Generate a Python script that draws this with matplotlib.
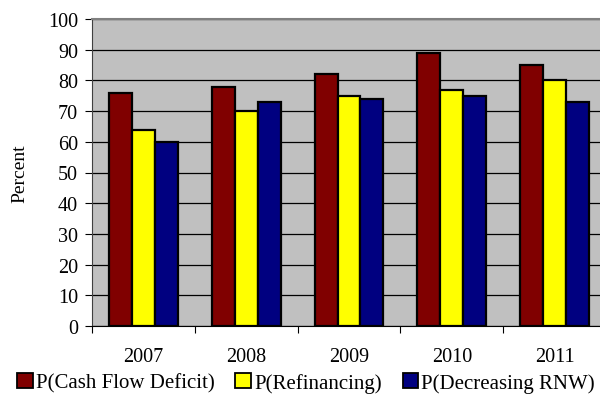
import matplotlib
matplotlib.use("Agg")
import matplotlib.pyplot as plt
import numpy as np
from matplotlib.patches import Patch

years = ["2007", "2008", "2009", "2010", "2011"]
cash_flow = [76, 78, 82, 89, 85]
refinancing = [64, 70, 75, 77, 80]
decreasing_rnw = [60, 73, 74, 75, 73]
series_names = ["P(Cash Flow Deficit)", "P(Refinancing)", "P(Decreasing RNW)"]
colors = ["#800000", "#FFFF00", "#000080"]

plt.rcParams['font.family'] = ['Liberation Serif', 'DejaVu Serif']

fig = plt.figure(figsize=(6.0, 4.02), dpi=100)
ax = fig.add_axes([92/600, 1-327/402, (606-92)/600, (327-20)/402])
ax.set_facecolor("#C0C0C0")

x = np.arange(len(years))
w = 0.223
for i, (vals, c) in enumerate(zip([cash_flow, refinancing, decreasing_rnw], colors)):
    ax.bar(x + (i - 1) * w, vals, width=w, color=c, edgecolor="black", linewidth=1.6, zorder=3)

ax.set_xlim(-0.5, len(years) - 0.5)
ax.set_ylim(0, 100)
ax.set_yticks(range(0, 101, 10))
ax.yaxis.grid(True, color="black", linewidth=0.9, zorder=1)
ax.set_axisbelow(True)
ax.set_xticks(np.arange(-0.5, len(years), 1.0))
ax.set_xticklabels([])
ax.set_xticks(x, minor=True)
ax.set_xticklabels(years, minor=True)
ax.tick_params(axis='x', which='major', length=5, direction='out', color="black")
ax.tick_params(axis='x', which='minor', length=0, pad=15, labelsize=14.5)
ax.tick_params(axis='y', length=5, direction='out', labelsize=14.5, pad=5)
ax.spines['top'].set_color("#808080")
ax.spines['top'].set_linewidth(1.5)
ax.spines['right'].set_visible(False)
ax.spines['left'].set_color("#404040")
ax.spines['bottom'].set_color("black")
ax.set_ylabel("Percent", fontsize=14)
ax.yaxis.set_label_coords((28-92)/514, 0.5)

handles = [Patch(facecolor=c, edgecolor="black", linewidth=1.3) for c in colors]
fig.legend(handles, series_names, loc="center", bbox_to_anchor=(0.51, 1-384/402),
           ncol=3, frameon=False, fontsize=15, handlelength=0.75, handleheight=0.75,
           handletextpad=0.15, columnspacing=1.0, borderaxespad=0)

fig.savefig("out.png", dpi=100)
